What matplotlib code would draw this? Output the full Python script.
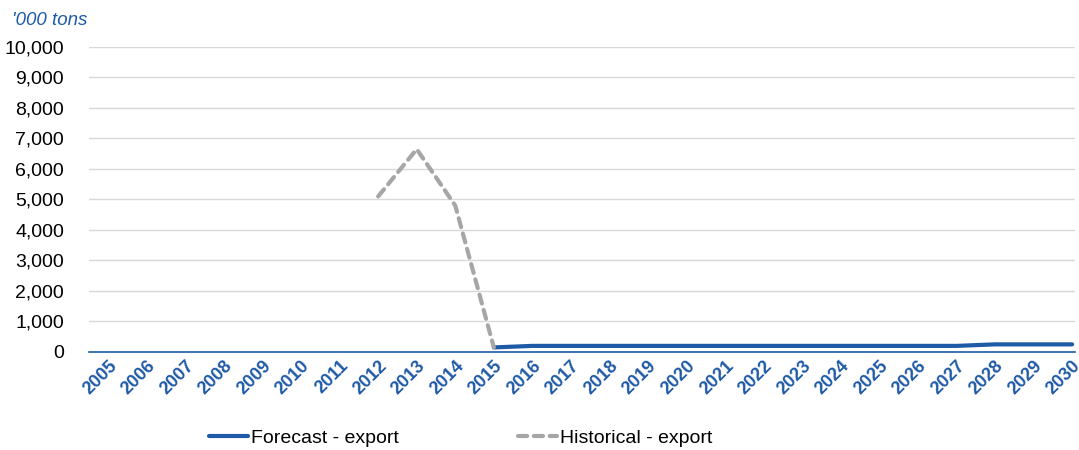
import numpy as np
import matplotlib.pyplot as plt

plt.rcParams['font.family'] = ['Liberation Sans', 'DejaVu Sans']

years = list(range(2005, 2031))

# historical exports, 2012-2015
hist_years = [2012, 2013, 2014, 2015]
hist_export = [5100, 6650, 4800, 150]

# forecast exports, 2015-2030
fc_years = list(range(2015, 2031))
fc_export = [150, 200, 200, 200, 200, 200, 200, 200, 200, 200,
             200, 200, 200, 250, 250, 250]

blue = '#1F5AA6'
grey = '#A6A6A6'

fig = plt.figure(figsize=(10.79, 4.5), dpi=100)
ax = fig.add_axes([0.0825, 0.2178, 0.914, 0.6778])

ax.plot(fc_years, fc_export, color=blue, lw=3, solid_capstyle='round',
        label='Forecast - export', zorder=3)
ax.plot(hist_years, hist_export, color=grey, lw=3, ls=(0, (2.2, 1.6)),
        dash_capstyle='round', label='Historical - export', zorder=4)

ax.set_xlim(2004.5, 2030.08)
ax.set_ylim(0, 10000)
ax.set_yticks(np.arange(0, 10001, 1000))
ax.set_yticklabels([f'{v:,}' for v in range(0, 10001, 1000)], fontsize=14)
ax.set_xticks(years)
ax.set_xticklabels([str(y) for y in years], rotation=45, ha='right',
                   rotation_mode='anchor', fontsize=13, fontweight='bold',
                   color=blue)
ax.tick_params(axis='y', length=0, pad=18)
ax.tick_params(axis='x', length=0, pad=4)

ax.grid(axis='y', color='#D9D9D9', lw=1)
ax.set_axisbelow(True)
for s in ['top', 'right', 'left']:
    ax.spines[s].set_visible(False)
ax.spines['bottom'].set_color(blue)
ax.spines['bottom'].set_linewidth(1.2)

fig.text(0.011, 0.955, "'000 tons", fontsize=13.5, style='italic', color=blue,
         va='center', ha='left')

fig.legend(loc='center', bbox_to_anchor=(0.427, 0.027), ncol=2, frameon=False,
           fontsize=14, handlelength=2.0, handletextpad=0.15, columnspacing=6.1)

fig.savefig('out.png', dpi=100)
